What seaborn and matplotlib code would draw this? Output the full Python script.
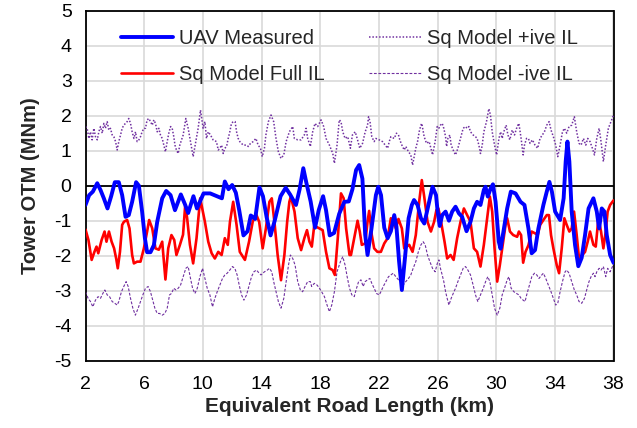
import matplotlib
matplotlib.use("Agg")
import matplotlib.pyplot as plt
import seaborn as sns
import pandas as pd

# ---------------- data ----------------
uav_km = [2.0, 2.25, 2.5, 2.8, 3.02, 3.25, 3.5, 3.75, 4.0, 4.27, 4.5, 4.73, 4.95, 5.18, 5.45, 5.64,
          5.86, 6.05, 6.2, 6.43, 6.66, 6.89, 7.23, 7.5, 7.8, 8.1, 8.5, 8.8, 9.0, 9.36, 9.6, 10.05,
          10.5, 10.95, 11.3, 11.5, 11.75, 12.0, 12.25, 12.48, 12.77, 13.05, 13.27, 13.57, 13.86, 14.1,
          14.35, 14.62, 14.9, 15.3, 15.65, 15.95, 16.35, 16.6, 16.85, 17.05, 17.35, 17.65, 17.9, 18.2,
          18.4, 18.65, 18.95, 19.3, 19.65, 19.95, 20.2, 20.45, 20.66, 20.88, 21.07, 21.23, 21.5, 21.8,
          21.96, 22.15, 22.37, 22.6, 22.82, 23.05, 23.2, 23.38, 23.57, 23.8, 24.03, 24.25, 24.4, 24.64,
          24.87, 25.1, 25.43, 25.66, 25.9, 26.0, 26.15, 26.32, 26.55, 26.78, 27.0, 27.23, 27.46, 27.68,
          27.98, 28.25, 28.48, 28.7, 28.93, 29.16, 29.27, 29.43, 29.62, 29.78, 29.96, 30.18, 30.3, 30.5,
          30.75, 31.0, 31.32, 31.66, 31.93, 32.2, 32.42, 32.65, 32.88, 33.22, 33.45, 33.63, 33.8, 34.02,
          34.36, 34.6, 34.74, 34.86, 34.99, 35.15, 35.38, 35.6, 35.83, 36.06, 36.3, 36.63, 36.86, 37.02,
          37.2, 37.38, 37.54, 37.77, 38.0]
uav_val = [-0.55, -0.27, -0.17, 0.07, -0.12, -0.36, -0.65, -0.3, 0.1, 0.1, -0.27, -0.89, -0.84, -0.46, 0.1, 0.0,
           -0.74, -1.5, -1.9, -1.9, -1.7, -1.03, -0.36, -0.15, -0.27, -0.7, -0.25, -0.55, -0.78, -0.3, -0.65, -0.22,
           -0.22, -0.3, -0.36, 0.12, -0.1, 0.02, -0.2, -0.7, -1.42, -1.3, -0.85, -0.95, -0.05, -0.3,
           -0.9, -1.42, -1.0, -0.3, -0.06, -0.25, -0.55, -0.1, 0.5, 0.1, -0.45, -1.2, -0.7, -0.3,
           -0.7, -1.42, -1.35, -0.8, -0.46, -0.45, -0.1, 0.45, 0.59, 0.2, -1.4, -1.98, -1.22, -0.27,
           -0.03, -0.27, -1.2, -1.5, -1.3, -0.84, -1.17, -2.16, -2.98, -1.98, -0.93, -0.55, -0.41, -0.55,
           -0.93, -1.08, -0.46, -0.03, -0.27, -0.7, -1.15, -0.84, -0.74, -1.0, -0.74, -0.6, -0.79, -0.89,
           -1.3, -1.03, -0.65, -0.46, -0.55, -0.12, -0.03, -0.31, -0.08, 0.04, -0.46, -1.6, -1.8, -1.3,
           -0.65, -0.17, -0.22, -0.46, -0.55, -1.22, -1.93, -1.84, -1.22, -0.55, -0.17, 0.11, -0.17, -0.74,
           -0.98, -0.36, 0.69, 1.26, 0.69, -0.74, -1.7, -2.3, -2.06, -1.41, -0.65, -0.36, -0.74, -1.22,
           -0.65, -0.74, -1.41, -1.98, -2.2]

full_km = [2.0, 2.2, 2.42, 2.6, 2.75, 2.87, 3.1, 3.3, 3.43, 3.6, 3.78, 3.95, 4.1, 4.2, 4.35, 4.5, 4.62,
           4.84, 5.0, 5.18, 5.3, 5.52, 5.75, 5.98, 6.2, 6.34, 6.55, 6.77, 7.0, 7.23, 7.45, 7.64, 7.86,
           8.05, 8.2, 8.43, 8.65, 8.8, 8.93, 9.12, 9.34, 9.57, 9.82, 10.0, 10.14, 10.37, 10.6, 10.82,
           11.05, 11.28, 11.5, 11.7, 11.85, 12.07, 12.3, 12.52, 12.87, 13.15, 13.4, 13.62, 13.84, 14.08,
           14.3, 14.54, 14.7, 14.88, 15.1, 15.33, 15.56, 15.75, 15.9, 16.0, 16.25, 16.47, 16.7, 16.92,
           17.1, 17.27, 17.43, 17.6, 17.72, 17.95, 18.17, 18.4, 18.63, 18.85, 19.0, 19.2, 19.42, 19.6,
           19.77, 20.0, 20.1, 20.32, 20.55, 20.7, 20.84, 21.07, 21.23, 21.34, 21.52, 21.68, 21.9, 22.14,
           22.37, 22.6, 22.82, 22.98, 23.16, 23.34, 23.57, 23.73, 23.9, 24.07, 24.3, 24.52, 24.75, 24.93,
           25.09, 25.32, 25.55, 25.77, 25.93, 26.06, 26.2, 26.32, 26.48, 26.66, 26.89, 27.1, 27.34, 27.57,
           27.8, 28.02, 28.25, 28.48, 28.7, 28.93, 29.16, 29.39, 29.57, 29.73, 29.89, 30.07, 30.25, 30.41,
           30.64, 30.75, 30.94, 31.16, 31.43, 31.55, 31.7, 31.84, 32.0, 32.2, 32.42, 32.65, 32.83, 33.0,
           33.22, 33.45, 33.6, 33.74, 33.9, 34.13, 34.29, 34.47, 34.65, 34.81, 34.99, 35.15, 35.31, 35.49,
           35.65, 35.88, 36.06, 36.24, 36.4, 36.63, 36.79, 36.97, 37.15, 37.31, 37.47, 37.6, 37.77, 37.93, 38.0]
full_val = [-1.25, -1.55, -2.12, -1.9, -1.74, -1.93, -1.55, -1.31, -1.6, -1.31, -1.6, -1.79, -2.1, -2.36, -1.89, -1.12, -1.03,
            -0.98, -1.22, -1.98, -2.22, -2.17, -2.17, -1.79, -1.31, -0.98, -1.22, -1.79, -1.83, -1.6, -2.68, -1.79, -1.41,
            -1.55, -1.98, -1.7, -1.4, -0.55, -0.93, -1.69, -2.22, -1.5, -0.36, -0.74, -1.03, -1.6, -1.93, -2.08,
            -1.89, -1.98, -1.5, -1.69, -1.03, -0.46, -1.12, -1.89, -2.12, -1.6, -1.03, -0.8, -1.03, -1.79,
            -1.22, -0.46, -0.36, -1.03, -1.98, -2.7, -1.98, -1.03, -0.46, -0.31, -0.74, -1.5, -1.84, -1.5,
            -1.27, -1.6, -1.74, -1.12, -1.17, -1.22, -1.27, -1.89, -2.36, -2.41, -2.55, -1.5, -0.22, -0.36,
            -1.22, -1.98, -1.98, -1.5, -1.0, -1.31, -1.69, -1.65, -1.03, -0.72, -1.41, -1.79, -1.89, -1.89,
            -1.65, -1.5, -0.93, -1.0, -1.22, -0.95, -1.22, -1.79, -1.74, -1.69, -1.89, -1.41, -0.46, 0.16,
            -0.3, -1.03, -1.31, -1.03, -0.69, -0.65, -0.93, -1.22, -1.6, -2.08, -1.98, -2.12, -1.5, -1.03,
            -0.65, -0.84, -1.03, -1.79, -1.89, -2.31, -1.69, -0.93, -0.31, -0.74, -1.79, -2.74, -2.27, -1.79,
            -1.12, -0.93, -1.31, -1.41, -1.46, -1.31, -1.41, -2.2, -1.89, -1.7, -1.31, -1.36, -1.41, -1.12,
            -0.98, -0.84, -0.84, -1.41, -1.79, -2.27, -2.5, -1.79, -0.93, -1.12, -1.31, -1.22, -0.74, -1.41,
            -2.08, -1.98, -1.89, -1.6, -1.31, -1.69, -1.74, -0.93, -1.31, -1.79, -1.31, -0.74, -0.55, -0.46, -0.42]

pos_km = [2.0, 2.11, 2.23, 2.34, 2.45, 2.57, 2.68, 2.8, 2.91, 3.02, 3.14, 3.25, 3.36, 3.48, 3.59, 3.7,
          3.82, 3.93, 4.05, 4.16, 4.27, 4.39, 4.5, 4.61, 4.73, 4.84, 4.95, 5.07, 5.18, 5.3, 5.41, 5.52,
          5.64, 5.75, 5.86, 5.98, 6.09, 6.2, 6.32, 6.43, 6.55, 6.66, 6.77, 6.89, 7.0, 7.11, 7.23, 7.34,
          7.45, 7.57, 7.68, 7.8, 7.91, 8.02, 8.1, 8.2, 8.32, 8.43, 8.66, 8.84, 9.0, 9.16, 9.34, 9.52,
          9.68, 9.84, 10.02, 10.14, 10.25, 10.37, 10.52, 10.7, 10.93, 11.05, 11.16, 11.28, 11.39, 11.5,
          11.62, 11.73, 11.84, 11.95, 12.07, 12.2, 12.3, 12.41, 12.52, 12.75, 12.98, 13.1, 13.25, 13.43,
          13.62, 13.77, 13.93, 14.05, 14.2, 14.3, 14.47, 14.65, 14.83, 14.99, 15.15, 15.33, 15.52, 15.68,
          15.9, 16.13, 16.24, 16.47, 16.7, 16.92, 17.04, 17.15, 17.33, 17.49, 17.65, 17.83, 18.06, 18.24,
          18.4, 18.63, 18.86, 18.97, 19.15, 19.3, 19.42, 19.54, 19.7, 19.88, 20.06, 20.2, 20.39, 20.55,
          20.7, 20.89, 21.07, 21.23, 21.3, 21.4, 21.52, 21.68, 21.8, 22.02, 22.25, 22.43, 22.6, 22.71,
          22.82, 23.05, 23.2, 23.34, 23.43, 23.57, 23.73, 23.84, 24.02, 24.18, 24.3, 24.41, 24.52, 24.64,
          24.75, 24.87, 24.93, 25.09, 25.25, 25.43, 25.55, 25.66, 25.84, 25.98, 26.09, 26.2, 26.32, 26.43,
          26.55, 26.62, 26.71, 26.84, 26.93, 27.12, 27.23, 27.39, 27.57, 27.75, 27.91, 28.02, 28.14, 28.25,
          28.43, 28.59, 28.7, 28.82, 28.93, 29.05, 29.16, 29.34, 29.5, 29.61, 29.73, 29.89, 30.03, 30.19,
          30.3, 30.41, 30.52, 30.68, 30.8, 30.93, 31.09, 31.25, 31.43, 31.55, 31.7, 31.84, 31.93, 32.07,
          32.2, 32.31, 32.47, 32.65, 32.83, 32.99, 33.15, 33.29, 33.45, 33.61, 33.74, 33.9, 34.06, 34.2,
          34.36, 34.52, 34.65, 34.81, 34.97, 35.15, 35.33, 35.49, 35.65, 35.79, 35.95, 36.11, 36.24, 36.4,
          36.56, 36.7, 36.86, 37.02, 37.15, 37.31, 37.47, 37.65, 37.83, 38.0]
pos_val = [1.69, 1.64, 1.35, 1.54, 1.31, 1.64, 1.40, 1.31, 1.54, 1.69, 1.50, 1.78, 1.64, 1.83, 1.59, 1.64,
           1.45, 1.40, 1.26, 1.02, 1.26, 1.45, 1.64, 1.73, 1.78, 1.83, 1.92, 1.78, 1.54, 1.35, 1.54, 1.26,
           1.31, 1.40, 1.54, 1.64, 1.64, 1.88, 1.92, 1.83, 1.73, 1.88, 1.78, 1.54, 1.64, 1.45, 1.35, 1.16,
           0.97, 1.26, 1.50, 1.69, 1.64, 1.40, 1.16, 1.02, 0.92, 1.16, 1.45, 1.92, 1.64, 1.26, 0.83, 1.26,
           1.64, 2.16, 1.64, 1.83, 1.35, 1.54, 1.45, 1.31, 1.26, 1.02, 1.07, 1.16, 0.92, 1.07,
           1.12, 1.35, 1.54, 1.78, 1.83, 1.83, 1.54, 1.35, 1.26, 1.16, 1.16, 1.12, 1.21, 1.26,
           1.35, 1.16, 1.07, 0.83, 1.07, 1.45, 1.83, 2.02, 1.83, 1.35, 0.97, 0.78, 0.88, 1.26,
           1.54, 1.69, 1.35, 1.31, 1.31, 1.45, 1.64, 1.35, 1.12, 1.54, 1.78, 1.69, 1.88, 1.69,
           1.35, 1.16, 0.92, 0.64, 1.16, 1.88, 1.83, 1.54, 1.35, 1.40, 1.07, 1.45, 1.54, 1.31,
           1.07, 1.21, 1.54, 1.73, 1.97, 1.83, 1.40, 1.26, 1.35, 1.31, 1.26, 1.16, 1.07, 1.26,
           1.40, 1.35, 1.50, 1.45, 1.31, 1.16, 1.02, 1.12, 0.97, 0.88, 0.59, 0.83, 1.07, 1.26,
           1.54, 1.73, 1.78, 1.40, 1.21, 1.26, 1.07, 0.88, 1.26, 1.69, 1.64, 1.73, 1.78, 1.64,
           1.40, 1.12, 1.35, 1.45, 1.16, 0.97, 0.88, 1.07, 1.35, 1.64, 1.69, 1.64, 1.69, 1.54,
           1.45, 1.40, 1.35, 1.16, 0.92, 1.16, 1.54, 1.83, 2.20, 2.02, 1.54, 1.16, 0.88, 1.35,
           1.54, 1.35, 1.54, 1.73, 1.45, 1.31, 1.59, 1.45, 1.69, 1.78, 1.35, 0.88, 1.16, 1.35,
           1.35, 1.21, 1.31, 1.16, 1.07, 1.35, 1.45, 1.54, 1.73, 1.83, 1.59, 1.40, 1.16, 0.83,
           1.16, 1.54, 1.64, 1.50, 1.69, 1.73, 1.97, 1.54, 1.21, 1.16, 1.35, 1.16, 1.35, 1.26,
           1.07, 0.88, 1.35, 1.64, 1.26, 0.69, 1.16, 1.64, 1.83, 2.02]

neg_km = [2.0, 2.18, 2.34, 2.5, 2.68, 2.86, 3.02, 3.18, 3.32, 3.48, 3.64, 3.82, 4.0, 4.16, 4.27, 4.45,
          4.61, 4.77, 4.91, 5.07, 5.23, 5.4, 5.59, 5.75, 5.91, 6.09, 6.27, 6.43, 6.55, 6.73, 6.89, 7.05,
          7.23, 7.41, 7.57, 7.73, 7.86, 8.02, 8.16, 8.32, 8.48, 8.66, 8.84, 9.0, 9.16, 9.3, 9.46, 9.62,
          9.8, 9.98, 10.14, 10.3, 10.48, 10.66, 10.82, 10.98, 11.16, 11.34, 11.5, 11.66, 11.84, 12.02,
          12.18, 12.34, 12.48, 12.64, 12.8, 12.98, 13.16, 13.32, 13.48, 13.66, 13.84, 13.97, 14.2, 14.4,
          14.54, 14.7, 14.83, 14.99, 15.15, 15.33, 15.52, 15.68, 15.84, 15.97, 16.13, 16.29, 16.47, 16.65,
          16.8, 16.97, 17.15, 17.33, 17.42, 17.6, 17.79, 17.95, 18.1, 18.29, 18.47, 18.63, 18.79, 18.97,
          19.15, 19.38, 19.54, 19.7, 19.84, 20.0, 20.16, 20.32, 20.48, 20.62, 20.78, 20.93, 21.07, 21.23,
          21.39, 21.52, 21.68, 21.84, 22.03, 22.14, 22.3, 22.48, 22.66, 22.82, 22.98, 23.16, 23.34, 23.5,
          23.66, 23.84, 24.02, 24.18, 24.34, 24.52, 24.7, 24.87, 25.02, 25.16, 25.32, 25.48, 25.66, 25.84,
          26.0, 26.1, 26.2, 26.32, 26.43, 26.55, 26.66, 26.78, 26.93, 27.12, 27.23, 27.39, 27.57, 27.75,
          27.91, 28.07, 28.25, 28.43, 28.59, 28.75, 28.93, 29.12, 29.28, 29.43, 29.57, 29.73, 29.89, 30.07,
          30.25, 30.41, 30.57, 30.75, 30.87, 31.02, 31.21, 31.39, 31.55, 31.7, 31.84, 31.97, 32.08, 32.24,
          32.43, 32.61, 32.77, 32.92, 33.11, 33.22, 33.38, 33.56, 33.74, 33.9, 34.06, 34.2, 34.36, 34.52,
          34.7, 34.81, 34.97, 35.15, 35.33, 35.49, 35.65, 35.83, 36.02, 36.17, 36.33, 36.47, 36.63, 36.74,
          36.86, 37.02, 37.15, 37.31, 37.47, 37.6, 37.77, 37.93, 38.0]
neg_val = [-3.03, -3.22, -3.31, -3.46, -3.27, -3.17, -3.22, -3.08, -2.98, -3.12, -3.17, -3.31, -3.36, -3.41, -3.31, -3.03,
           -2.88, -2.74, -2.88, -3.22, -3.50, -3.70, -3.50, -3.31, -3.12, -2.93, -2.88, -3.03, -3.22, -3.50, -3.65, -3.65,
           -3.70, -3.65, -3.50, -3.12, -3.08, -2.93, -2.98, -2.93, -2.84, -2.60, -2.36, -2.31, -2.65, -2.93, -3.08, -2.93,
           -2.60, -2.36, -2.65, -2.93, -3.12, -3.46, -3.22, -3.03, -2.84, -2.65, -2.55, -2.50, -2.41, -2.31,
           -2.36, -2.55, -2.84, -3.12, -3.27, -3.12, -2.84, -2.60, -2.46, -2.41, -2.50, -2.55, -2.46, -2.41,
           -2.36, -2.46, -2.74, -3.03, -3.31, -3.50, -3.22, -2.74, -2.27, -1.98, -2.08, -2.27, -2.74, -2.98,
           -3.03, -2.88, -2.74, -2.74, -2.88, -2.79, -2.84, -2.93, -3.03, -3.17, -3.41, -3.60, -3.41, -3.03,
           -2.46, -2.17, -2.03, -2.27, -2.60, -2.93, -3.12, -3.17, -2.93, -2.74, -2.69, -2.88, -2.74, -2.69,
           -2.65, -2.79, -2.93, -3.08, -3.12, -3.03, -2.88, -2.74, -2.60, -2.55, -2.50, -2.60, -2.69, -2.74,
           -2.84, -2.74, -2.65, -2.55, -2.36, -2.17, -1.88, -1.69, -1.60, -1.69, -1.98, -2.17, -2.36, -2.46,
           -2.20, -2.12, -2.36, -2.55, -2.74, -3.03, -3.22, -3.41, -3.22, -3.03, -2.93, -2.74, -2.55, -2.36,
           -2.31, -2.41, -2.55, -2.84, -3.12, -3.31, -3.12, -2.93, -2.74, -2.60, -2.74, -3.12, -3.50, -3.70,
           -3.50, -3.12, -2.93, -2.69, -2.60, -2.93, -3.03, -3.08, -3.12, -3.22, -3.27, -3.31, -3.12, -2.88,
           -2.60, -2.50, -2.55, -2.65, -2.55, -2.50, -2.65, -2.84, -3.03, -3.22, -3.41, -3.36, -3.03, -2.74,
           -2.46, -2.41, -2.50, -2.74, -2.98, -3.12, -3.31, -3.36, -3.22, -2.98, -2.74, -2.60, -2.50, -2.60,
           -2.46, -2.36, -2.41, -2.31, -2.60, -2.36, -2.46, -2.31, -2.22]

labels = ["UAV Measured", "Sq Model Full IL", "Sq Model +ive IL", "Sq Model -ive IL"]
x_ticks = [2, 6, 10, 14, 18, 22, 26, 30, 34, 38]
y_ticks = [-5, -4, -3, -2, -1, 0, 1, 2, 3, 4, 5]

# ---------------- plotting ----------------
sns.set_style("white")
plt.rcParams["font.family"] = ["Liberation Sans", "DejaVu Sans"]

fig = plt.figure(figsize=(6.37, 4.28), dpi=100)
ax = fig.add_axes([85.5 / 637, 1 - 360.7 / 428, (613.5 - 85.5) / 637, (360.7 - 10.7) / 428])

ax.grid(True, color="#d9d9d9", linewidth=1.2, zorder=0)
ax.set_axisbelow(True)
ax.axhline(0, color="black", linewidth=1.3, zorder=1)

purple = "#7030a0"
series = [
    (uav_km, uav_val, labels[0], dict(color="#0000ff", linewidth=2.8, linestyle="-")),
    (full_km, full_val, labels[1], dict(color="#ff0000", linewidth=1.9, linestyle="-")),
    (pos_km, pos_val, labels[2], dict(color=purple, linewidth=1.1, linestyle=(0, (1, 1.2)))),
    (neg_km, neg_val, labels[3], dict(color=purple, linewidth=0.8, linestyle=(0, (2.5, 1.5)))),
]
for i in [3, 2, 1, 0]:
    xs, ys, lab, style = series[i]
    df = pd.DataFrame({"km": xs, "otm": ys})
    sns.lineplot(data=df, x="km", y="otm", ax=ax, label=lab, zorder=3 + (3 - i), **style)

h, l = ax.get_legend_handles_labels()
hmap = dict(zip(l, h))
leg = ax.legend([hmap[k] for k in labels], labels, ncol=2, loc="upper center",
                bbox_to_anchor=(0.5, 1.0), frameon=False, fontsize=14.5,
                handlelength=2.6, columnspacing=2.2, labelspacing=0.85, handletextpad=0.3)

ax.set_xlim(2, 38)
ax.set_ylim(-5, 5)
ax.set_xticks(x_ticks)
ax.set_yticks(y_ticks)
ax.set_xticklabels([str(v) for v in x_ticks])
ax.set_yticklabels([str(v) for v in y_ticks])
ax.tick_params(axis="both", labelsize=14, colors="black")
ax.tick_params(axis="y", length=4, color="#bfbfbf", pad=6)
ax.tick_params(axis="x", length=0, pad=11)

for s in ax.spines.values():
    s.set_color("black")
    s.set_linewidth(1.3)

ax.set_xlabel("Equivalent Road Length (km)", fontsize=15, fontweight="bold", labelpad=3)
ax.set_ylabel("Tower OTM (MNm)", fontsize=14.5, fontweight="bold", labelpad=10)

fig.savefig("out.png", dpi=100)
